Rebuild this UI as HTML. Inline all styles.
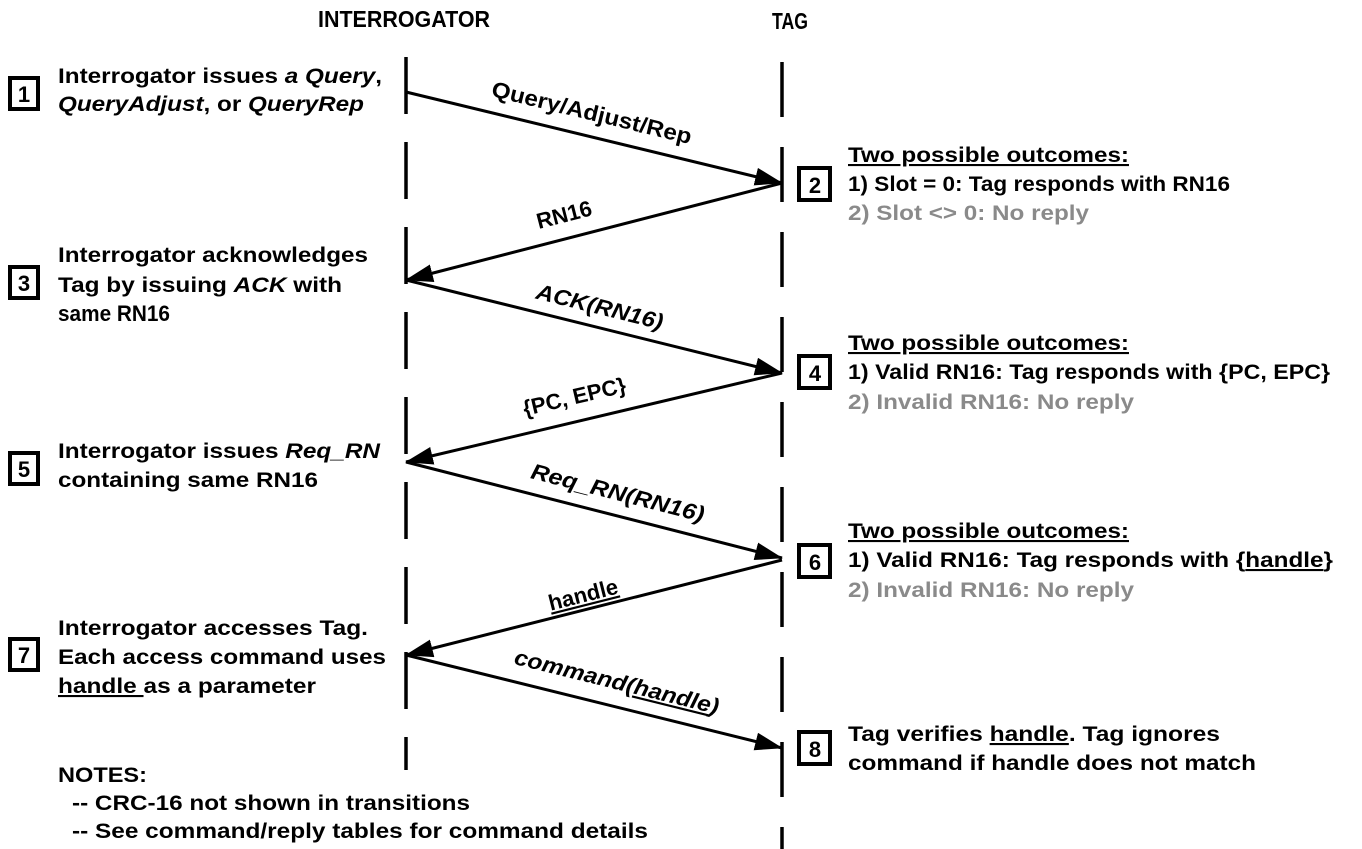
<!DOCTYPE html>
<html><head><meta charset="utf-8"><style>
html,body{margin:0;padding:0;background:#fff;}
svg{display:block;font-family:"Liberation Sans",Arial,sans-serif;font-weight:bold;}
</style></head><body>
<svg width="1362" height="849" viewBox="0 0 1362 849" xmlns="http://www.w3.org/2000/svg">
<defs>
<marker id="ah2" markerWidth="28" markerHeight="18" refX="27" refY="9" orient="auto" markerUnits="userSpaceOnUse" viewBox="0 0 28 18">
<path d="M0,0 L28,9 L0,18 z" fill="#000"/></marker>
</defs>
<g font-size="23" fill="#000">
<text x="404" y="27" text-anchor="middle" textLength="172" lengthAdjust="spacingAndGlyphs">INTERROGATOR</text>
<text x="790" y="29" text-anchor="middle" textLength="36" lengthAdjust="spacingAndGlyphs">TAG</text>
</g>
<line x1="406" y1="57" x2="406" y2="770" stroke="#000" stroke-width="3.5" stroke-dasharray="57 28"/>
<line x1="782" y1="62" x2="782" y2="849" stroke="#000" stroke-width="3.5" stroke-dasharray="55 30"/>
<g stroke="#000" stroke-width="3" fill="none">
<line x1="406" y1="92" x2="782" y2="183" marker-end="url(#ah2)"/>
<line x1="782" y1="183" x2="406" y2="280" marker-end="url(#ah2)"/>
<line x1="406" y1="280" x2="782" y2="373" marker-end="url(#ah2)"/>
<line x1="782" y1="373" x2="406" y2="462" marker-end="url(#ah2)"/>
<line x1="406" y1="462" x2="782" y2="558" marker-end="url(#ah2)"/>
<line x1="782" y1="560" x2="406" y2="655" marker-end="url(#ah2)"/>
<line x1="406" y1="655" x2="782" y2="748" marker-end="url(#ah2)"/>
</g>
<g font-size="22" fill="#000">
<text transform="translate(590,120) rotate(13.6)" text-anchor="middle" textLength="205" lengthAdjust="spacingAndGlyphs">Query/Adjust/Rep</text>
<text transform="translate(566,222) rotate(-14.5)" text-anchor="middle">RN16</text>
<text transform="translate(598,314) rotate(13.9)" text-anchor="middle" font-style="italic" textLength="130" lengthAdjust="spacingAndGlyphs">ACK(RN16)</text>
<text transform="translate(576,404) rotate(-13.3)" text-anchor="middle">{PC, EPC}</text>
<text transform="translate(616,500) rotate(14.3)" text-anchor="middle" font-style="italic" textLength="178" lengthAdjust="spacingAndGlyphs">Req_RN(RN16)</text>
<text transform="translate(585,602) rotate(-14.2)" text-anchor="middle" text-decoration="underline">handle</text>
<text transform="translate(615,689) rotate(13.9)" text-anchor="middle" font-style="italic" textLength="210" lengthAdjust="spacingAndGlyphs">command(<tspan text-decoration="underline">handle</tspan>)</text>
</g>
<g fill="none" stroke="#000" stroke-width="4">
<rect x="10" y="78" width="28" height="31"/>
<rect x="10" y="267" width="28" height="31"/>
<rect x="10" y="453" width="28" height="31"/>
<rect x="10" y="639" width="28" height="31"/>
<rect x="799" y="168" width="31" height="32"/>
<rect x="799" y="356" width="31" height="32"/>
<rect x="799" y="545" width="31" height="32"/>
<rect x="799" y="732" width="31" height="32"/>
</g>
<g font-size="22" fill="#000" text-anchor="middle">
<text x="24" y="102">1</text><text x="24" y="291">3</text><text x="24" y="477">5</text><text x="24" y="663">7</text>
<text x="815" y="193">2</text><text x="815" y="381">4</text><text x="815" y="570">6</text><text x="815" y="757">8</text>
</g>
<g font-size="21" fill="#000">
<text x="58" y="83" textLength="324" lengthAdjust="spacingAndGlyphs">Interrogator issues <tspan font-style="italic">a Query</tspan>,</text>
<text x="58" y="111" textLength="306" lengthAdjust="spacingAndGlyphs"><tspan font-style="italic">QueryAdjust</tspan>, or <tspan font-style="italic">QueryRep</tspan></text>
<text x="58" y="262" textLength="310" lengthAdjust="spacingAndGlyphs">Interrogator acknowledges</text>
<text x="58" y="292" textLength="284" lengthAdjust="spacingAndGlyphs">Tag by issuing <tspan font-style="italic">ACK</tspan> with</text>
<text x="58" y="321" font-size="22" textLength="112" lengthAdjust="spacingAndGlyphs">same RN16</text>
<text x="58" y="458" textLength="322" lengthAdjust="spacingAndGlyphs">Interrogator issues <tspan font-style="italic">Req_RN</tspan></text>
<text x="58" y="487" textLength="260" lengthAdjust="spacingAndGlyphs">containing same RN16</text>
<text x="58" y="635" textLength="310" lengthAdjust="spacingAndGlyphs">Interrogator accesses Tag.</text>
<text x="58" y="664" textLength="328" lengthAdjust="spacingAndGlyphs">Each access command uses</text>
<text x="58" y="693" textLength="258" lengthAdjust="spacingAndGlyphs"><tspan text-decoration="underline">handle </tspan>as a parameter</text>
<text x="58" y="782" textLength="89" lengthAdjust="spacingAndGlyphs">NOTES:</text>
<text x="72" y="810" textLength="398" lengthAdjust="spacingAndGlyphs">-- CRC-16 not shown in transitions</text>
<text x="72" y="838" textLength="576" lengthAdjust="spacingAndGlyphs">-- See command/reply tables for command details</text>
</g>
<g font-size="21" fill="#000">
<text x="848" y="162" textLength="281" lengthAdjust="spacingAndGlyphs" text-decoration="underline">Two possible outcomes:</text>
<text x="848" y="191" textLength="382" lengthAdjust="spacingAndGlyphs">1) Slot = 0: Tag responds with RN16</text>
<text x="848" y="220" textLength="241" lengthAdjust="spacingAndGlyphs" fill="#8a8a8a">2) Slot &lt;&gt; 0: No reply</text>
<text x="848" y="350" textLength="281" lengthAdjust="spacingAndGlyphs" text-decoration="underline">Two possible outcomes:</text>
<text x="848" y="379" textLength="482" lengthAdjust="spacingAndGlyphs">1) Valid RN16: Tag responds with {PC, EPC}</text>
<text x="848" y="409" textLength="286" lengthAdjust="spacingAndGlyphs" fill="#8a8a8a">2) Invalid RN16: No reply</text>
<text x="848" y="538" textLength="281" lengthAdjust="spacingAndGlyphs" text-decoration="underline">Two possible outcomes:</text>
<text x="848" y="567" textLength="485" lengthAdjust="spacingAndGlyphs">1) Valid RN16: Tag responds with {<tspan text-decoration="underline">handle</tspan>}</text>
<text x="848" y="597" textLength="286" lengthAdjust="spacingAndGlyphs" fill="#8a8a8a">2) Invalid RN16: No reply</text>
<text x="848" y="741" textLength="372" lengthAdjust="spacingAndGlyphs">Tag verifies <tspan text-decoration="underline">handle</tspan>. Tag ignores</text>
<text x="848" y="770" textLength="408" lengthAdjust="spacingAndGlyphs">command if handle does not match</text>
</g>
</svg>
</body></html>
